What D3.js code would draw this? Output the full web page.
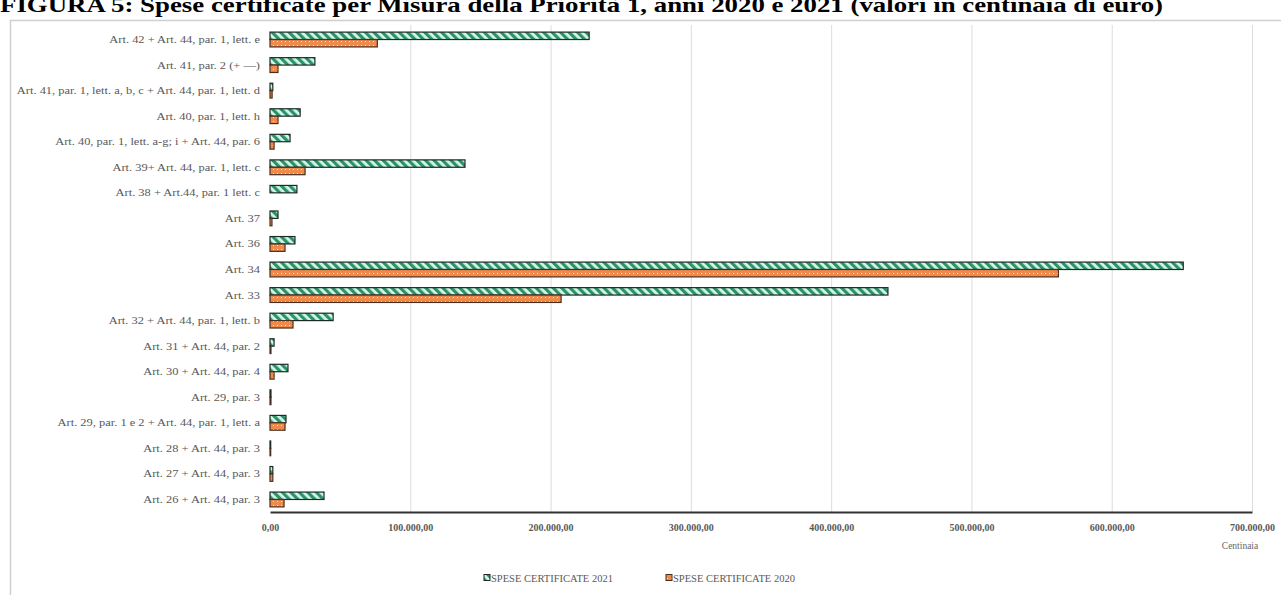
<!DOCTYPE html>
<html>
<head>
<meta charset="utf-8">
<script src="https://cdn.jsdelivr.net/npm/d3@7"></script>
<style>
  body { margin: 0; background: #fff; }
  svg { display: block; }
</style>
</head>
<body>
<div id="content"></div>
<script>
// categories top to bottom, values in centinaia di euro
var categories = [
  "Art. 42 + Art. 44, par. 1, lett. e",
  "Art. 41, par. 2 (+ \u2014)",
  "Art. 41, par. 1, lett. a, b, c + Art. 44, par. 1, lett. d",
  "Art. 40, par. 1, lett. h",
  "Art. 40, par. 1, lett. a-g; i + Art. 44, par. 6",
  "Art. 39+ Art. 44, par. 1, lett. c",
  "Art. 38 + Art.44, par. 1 lett. c",
  "Art. 37",
  "Art. 36",
  "Art. 34",
  "Art. 33",
  "Art. 32 + Art. 44, par. 1, lett. b",
  "Art. 31 + Art. 44, par. 2",
  "Art. 30 + Art. 44, par. 4",
  "Art. 29, par. 3",
  "Art. 29, par. 1 e 2 + Art. 44, par. 1, lett. a",
  "Art. 28 + Art. 44, par. 3",
  "Art. 27 + Art. 44, par. 3",
  "Art. 26 + Art. 44, par. 3"
];
var spese2021 = [227500, 32000, 2000, 21500, 14300, 139000, 19200, 5700, 17800, 651000, 440500, 45000, 2900, 12800, 700, 11400, 500, 2000, 38500];
var spese2020 = [76500, 5700, 1500, 5700, 2900, 25000, 0, 1400, 10700, 562000, 207500, 16400, 700, 2900, 700, 10700, 500, 2000, 10000];
var xTicks = [0, 100000, 200000, 300000, 400000, 500000, 600000, 700000];
var seriesNames = ["SPESE CERTIFICATE 2021", "SPESE CERTIFICATE 2020"];

var width = 1281, height = 595;
var plotLeft = 270, plotRight = 1252, plotTop = 27, plotBottom = 512;
var serif = "Liberation Serif, Times New Roman, serif";

var svg = d3.select("#content").append("svg")
  .attr("width", width).attr("height", height);

var defs = svg.append("defs");
// green diagonal hatch
var pg = defs.append("pattern").attr("id", "hatchGreen")
  .attr("patternUnits", "userSpaceOnUse").attr("width", 6).attr("height", 6)
  .attr("patternTransform", "rotate(-45)");
pg.append("rect").attr("width", 6).attr("height", 6).attr("fill", "#d4f6ef");
pg.append("rect").attr("width", 3.2).attr("height", 6).attr("fill", "#2a9466");
// orange dotted
var po = defs.append("pattern").attr("id", "dotOrange")
  .attr("patternUnits", "userSpaceOnUse").attr("width", 4).attr("height", 4);
po.append("rect").attr("width", 4).attr("height", 4).attr("fill", "#f08a4b");
po.append("rect").attr("x", 1).attr("y", 1).attr("width", 1).attr("height", 1).attr("fill", "#fde3cf");

// title (cut at the top as in the source)
svg.append("text")
  .attr("x", 0).attr("y", 12)
  .attr("font-family", serif)
  .attr("font-weight", "bold").attr("font-size", 21)
  .attr("textLength", 1163).attr("lengthAdjust", "spacingAndGlyphs")
  .text("FIGURA 5: Spese certificate per Misura della Priorit\u00e0 1, anni 2020 e 2021 (valori in centinaia di euro)");

// chart frame
svg.append("path")
  .attr("d", "M10.5," + (height + 5) + "V20.5H" + (width + 5))
  .attr("fill", "none").attr("stroke", "#d0d0d0").attr("stroke-width", 1.5);

var x = d3.scaleLinear().domain([0, 700000]).range([plotLeft, plotRight]);
var y = d3.scaleBand().domain(categories).range([plotTop, plotBottom]).paddingInner(0.42).paddingOuter(0.2);

// gridlines
svg.append("g").selectAll("line").data(xTicks.slice(1)).join("line")
  .attr("x1", d => x(d) + 0.5).attr("x2", d => x(d) + 0.5)
  .attr("y1", plotTop - 2).attr("y2", plotBottom)
  .attr("stroke", "#dcdcdc").attr("stroke-width", 1);

var bh = y.bandwidth() / 2;
var g = svg.append("g");
g.selectAll("rect.b21").data(categories).join("rect").attr("class", "b21")
  .attr("x", plotLeft).attr("y", d => y(d))
  .attr("width", (d, i) => x(spese2021[i]) - plotLeft)
  .attr("height", bh)
  .attr("fill", "url(#hatchGreen)").attr("stroke", "#1e2a24").attr("stroke-width", 1.2);
g.selectAll("rect.b20").data(categories).join("rect").attr("class", "b20")
  .attr("x", plotLeft).attr("y", d => y(d) + bh)
  .attr("width", (d, i) => x(spese2020[i]) - plotLeft)
  .attr("height", bh)
  .attr("fill", "url(#dotOrange)").attr("stroke", "#4a2f1e").attr("stroke-width", 1.2)
  .attr("display", (d, i) => spese2020[i] > 0 ? null : "none");

// category labels, slightly stretched like the source
svg.append("g").selectAll("text").data(categories).join("text")
  .attr("x", plotLeft - 10).attr("y", d => y(d) + y.bandwidth() / 2 + 3.5)
  .attr("text-anchor", "end")
  .attr("font-family", serif)
  .attr("font-size", 11).attr("fill", "#595959")
  .text(d => d)
  .each(function() {
    var len = this.getComputedTextLength();
    d3.select(this).attr("textLength", len * 1.13).attr("lengthAdjust", "spacingAndGlyphs");
  });

// x axis
var xAxis = d3.axisBottom(x).tickValues(xTicks).tickSize(0).tickPadding(12)
  .tickFormat(d => d3.format(",.2f")(d).replace(/,/g, "#").replace(".", ",").replace(/#/g, "."));
var ax = svg.append("g").attr("transform", "translate(0," + plotBottom + ")").call(xAxis);
ax.select(".domain").attr("stroke", "#333").attr("stroke-width", 2);
ax.selectAll("text").attr("font-family", serif)
  .attr("font-size", 10).attr("font-weight", "bold").attr("fill", "#595959");

svg.append("text").attr("x", 1240).attr("y", 549).attr("text-anchor", "middle")
  .attr("font-family", serif)
  .attr("font-size", 9.5).attr("fill", "#666").text("Centinaia");

// legend
var legendX = [484, 666];
var fills = ["url(#hatchGreen)", "url(#dotOrange)"];
var strokes = ["#1e2a24", "#4a2f1e"];
var lg = svg.append("g").selectAll("g").data(seriesNames).join("g")
  .attr("transform", (d, i) => "translate(" + legendX[i] + ",573)");
lg.append("rect").attr("width", 6).attr("height", 6).attr("y", 1.5)
  .attr("fill", (d, i) => fills[i]).attr("stroke", (d, i) => strokes[i]);
lg.append("text").attr("x", 7).attr("y", 9)
  .attr("font-family", serif)
  .attr("font-size", 10.5).attr("fill", "#595959").text(d => d);
</script>
</body>
</html>
